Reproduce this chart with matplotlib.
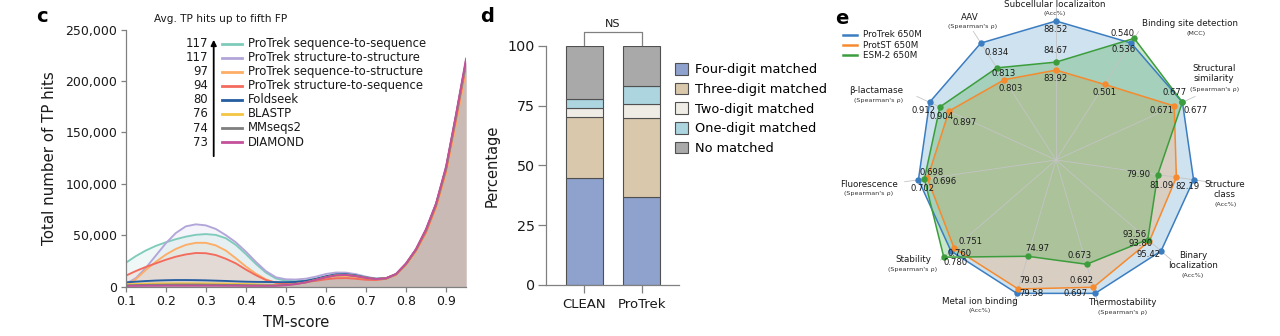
import numpy as np
import matplotlib.pyplot as plt
from matplotlib.patches import Patch, FancyArrowPatch
from matplotlib.lines import Line2D

plt.rcParams['font.family'] = ['DejaVu Sans']
plt.rcParams['axes.linewidth'] = 0.9

W, H = 1280, 336
fig = plt.figure(figsize=(12.8, 3.36), dpi=100)


def fx(px):
    return px / W


def fy(py):
    return 1 - py / H


TXT = '#1a1a1a'
SPINE = '#808080'

# ---------------------------------------------------------------- panel c data
tm_score = [0.100, 0.125, 0.150, 0.175, 0.200, 0.225, 0.250, 0.275, 0.300,
            0.325, 0.350, 0.375, 0.400, 0.425, 0.450, 0.475, 0.500, 0.525,
            0.550, 0.575, 0.600, 0.625, 0.650, 0.675, 0.700, 0.725, 0.750,
            0.775, 0.800, 0.825, 0.850, 0.875, 0.900, 0.925, 0.950]

# TP hits (thousands) at each TM-score
hits_seq2seq = [23.0, 29.5, 35.0, 39.5, 43.0, 46.0, 48.5, 50.3, 51.0, 50.2, 47.0, 40.5,
                31.6, 22.0, 13.5, 7.8, 5.6, 5.2, 5.8, 7.2, 9.5, 11.6, 12.0, 10.6, 8.6,
                7.4, 8.0, 12.0, 22.0, 36.0, 55.0, 80.0, 115.0, 166.0, 219.0]
hits_struct2struct = [2.5, 8.0, 18.0, 30.0, 42.0, 52.0, 58.5, 60.5, 59.5, 56.0, 50.0, 43.0,
                      34.0, 24.0, 15.0, 9.0, 7.0, 6.8, 7.6, 9.6, 12.2, 13.6, 13.5, 12.0, 9.6,
                      7.7, 8.1, 12.1, 22.1, 36.2, 55.3, 80.3, 115.8, 167.0, 221.0]
hits_seq2struct = [0.5, 7.0, 16.0, 24.0, 31.0, 36.5, 40.5, 42.5, 42.5, 40.0, 35.0, 27.5,
                   19.5, 12.5, 7.0, 3.5, 2.5, 3.0, 4.0, 6.0, 8.5, 10.0, 10.3, 9.0, 7.5,
                   6.8, 7.4, 11.3, 20.8, 34.0, 52.0, 76.0, 110.0, 158.0, 211.0]
hits_struct2seq = [10.5, 15.0, 19.0, 22.5, 26.0, 29.0, 31.2, 32.6, 32.4, 30.6, 27.0, 22.5,
                   16.5, 11.0, 6.3, 3.7, 3.0, 3.5, 4.5, 5.5, 7.0, 8.0, 8.2, 7.5, 6.5,
                   6.3, 7.5, 11.5, 21.5, 35.0, 53.0, 78.0, 113.0, 163.0, 216.0]
hits_foldseek = [4.0, 4.7, 5.3, 5.8, 6.1, 6.3, 6.3, 6.2, 6.0, 5.7, 5.4, 5.0,
                 4.7, 4.5, 4.4, 4.3, 4.2, 4.5, 5.5, 7.5, 10.0, 11.8, 12.0, 10.8, 8.8,
                 7.5, 8.0, 12.0, 22.0, 36.0, 55.0, 80.0, 115.0, 166.0, 219.0]
hits_blastp = [2.0, 2.4, 2.7, 2.9, 3.0, 3.1, 3.1, 3.1, 3.0, 2.9, 2.8, 2.6,
               2.4, 2.1, 1.6, 1.2, 1.5, 2.5, 4.0, 6.5, 9.0, 11.0, 11.3, 10.2, 8.5,
               7.3, 8.0, 12.0, 22.0, 36.0, 55.0, 80.0, 115.0, 166.0, 219.0]
hits_mmseqs2 = [1.2, 1.4, 1.6, 1.7, 1.8, 1.9, 1.9, 1.9, 1.8, 1.7, 1.6, 1.5,
                1.3, 1.2, 1.1, 1.1, 1.5, 2.5, 4.0, 6.5, 9.0, 11.0, 11.3, 10.2, 8.5,
                7.3, 8.0, 12.0, 22.0, 36.0, 55.0, 80.0, 115.0, 166.0, 219.0]
hits_diamond = [0.5, 0.6, 0.7, 0.7, 0.8, 0.8, 0.8, 0.8, 0.8, 0.8, 0.7, 0.7,
                0.6, 0.6, 0.6, 0.7, 1.2, 2.3, 4.0, 6.5, 9.0, 10.8, 11.2, 10.0, 8.3,
                7.2, 8.0, 12.2, 22.5, 36.5, 56.0, 81.0, 117.0, 168.0, 222.0]

search_methods = ['ProTrek sequence-to-sequence', 'ProTrek structure-to-structure',
                  'ProTrek sequence-to-structure', 'ProTrek structure-to-sequence',
                  'Foldseek', 'BLASTP', 'MMseqs2', 'DIAMOND']
avg_tp_hits = [117, 117, 97, 94, 80, 76, 74, 73]
method_hits = [hits_seq2seq, hits_struct2struct, hits_seq2struct, hits_struct2seq,
               hits_foldseek, hits_blastp, hits_mmseqs2, hits_diamond]
method_colors = ['#7fcbbb', '#b2a5d9', '#fdae66', '#f36b5c',
                 '#255da0', '#f4c443', '#7f7f7f', '#c4509a']

# ---------------------------------------------------------------- panel d data
ec_tools = ['CLEAN', 'ProTrek']
match_levels = ['Four-digit matched', 'Three-digit matched', 'Two-digit matched',
                'One-digit matched', 'No matched']
four_digit = [44.8, 36.8]
three_digit = [25.2, 32.8]
two_digit = [3.9, 6.2]
one_digit = [4.0, 7.2]
no_match = [22.1, 17.0]
level_colors = ['#8fa2cd', '#d9c8ab', '#efebe5', '#acd5df', '#a9a9a9']

# ---------------------------------------------------------------- panel e data
tasks = ['Subcellular localizaiton', 'Binding site detection', 'Structural\nsimilarity',
         'Structure\nclass', 'Binary\nlocalization', 'Thermostability',
         'Metal ion binding', 'Stability', 'Fluorescence', 'β-lactamase', 'AAV']
task_metrics = ['(Acc%)', '(MCC)', "(Spearman's ρ)", '(Acc%)', '(Acc%)',
                "(Spearman's ρ)", '(Acc%)', "(Spearman's ρ)", "(Spearman's ρ)",
                "(Spearman's ρ)", "(Spearman's ρ)"]
protrek_650m = [88.52, 0.536, 0.677, 82.19, 95.42, 0.697, 79.58, 0.760, 0.702, 0.912, 0.834]
protst_650m = [83.92, 0.501, 0.671, 81.09, 93.80, 0.692, 79.03, 0.751, 0.696, 0.897, 0.803]
esm2_650m = [84.67, 0.540, 0.677, 79.90, 93.56, 0.673, 74.97, 0.780, 0.698, 0.904, 0.813]
# lower end of each radial scale (centre of the radar)
axis_floor = [75.5, 0.437, 0.585, 73.4, 80.7, 0.587, 63.0, 0.466, 0.610, 0.814, 0.735]
model_names = ['ProTrek 650M', 'ProtST 650M', 'ESM-2 650M']
model_colors = ['#3b7dc0', '#f58a2e', '#3c9d3c']
model_fills = ['#1f77b4', '#ff7f0e', '#2ca02c']
model_alpha = [0.21, 0.20, 0.26]

# ============================================================ panel c
axc = fig.add_axes([fx(125.7), fy(286.5), fx(466.1) - fx(125.7), fy(29.6) - fy(286.5)])
xs = np.array(tm_score)
# shaded areas are stacked in reverse legend order, curves in legend order
for hits, col in reversed(list(zip(method_hits, method_colors))):
    ys = np.array(hits) * 1000
    axc.fill_between(xs, ys, 0, color=col, alpha=0.12, lw=0, zorder=1)
for hits, col in zip(method_hits, method_colors):
    ys = np.array(hits) * 1000
    axc.plot(xs, ys, color=col, lw=1.35, zorder=2, solid_capstyle='round')

axc.set_xlim(0.1, 0.95)
axc.set_ylim(0, 250000)
axc.set_xticks([0.1, 0.2, 0.3, 0.4, 0.5, 0.6, 0.7, 0.8, 0.9])
axc.set_xticklabels(['0.1', '0.2', '0.3', '0.4', '0.5', '0.6', '0.7', '0.8', '0.9'])
axc.set_yticks([0, 50000, 100000, 150000, 200000, 250000])
axc.set_yticklabels(['0', '50,000', '100,000', '150,000', '200,000', '250,000'])
for s in ['top', 'right']:
    axc.spines[s].set_visible(False)
for s in ['left', 'bottom']:
    axc.spines[s].set_color(SPINE)
axc.tick_params(axis='both', direction='out', length=3.5, width=0.9, color=SPINE,
                labelsize=9, labelcolor=TXT, pad=2.5)
axc.set_xlabel('TM-score', fontsize=10.5, color=TXT, labelpad=5)
axc.set_ylabel('Total number of TP hits', fontsize=10.8, color=TXT, labelpad=6)

# ranked legend with arrow
fig.text(fx(154), fy(19), 'Avg. TP hits up to fifth FP', fontsize=7.6, color=TXT,
         ha='left', va='center')
row0, row_step = 43.7, 14.05
for i, (name, val, col) in enumerate(zip(search_methods, avg_tp_hits, method_colors)):
    yy = fy(row0 + i * row_step)
    fig.text(fx(208), yy, str(val), fontsize=8.4, color=TXT, ha='right', va='center')
    fig.add_artist(Line2D([fx(221.7), fx(242.3)], [yy, yy], color=col, lw=2.0,
                          transform=fig.transFigure))
    fig.text(fx(248), yy, name, fontsize=8.4, color=TXT, ha='left', va='center')
fig.add_artist(FancyArrowPatch((fx(213.7), fy(159)), (fx(213.7), fy(37)),
                               transform=fig.transFigure, arrowstyle='-|>',
                               mutation_scale=8, lw=1.3, color='black'))

# ============================================================ panel d
axd = fig.add_axes([fx(546.3), fy(285), fx(679) - fx(546.3), fy(45.7) - fy(285)])
xpos = np.arange(len(ec_tools))
bottom = np.zeros(len(ec_tools))
for seg, col in zip([four_digit, three_digit, two_digit, one_digit, no_match], level_colors):
    axd.bar(xpos, seg, width=0.64, bottom=bottom, color=col, edgecolor='#505050',
            linewidth=0.8, zorder=2)
    bottom += np.array(seg)
axd.set_xlim(-0.66, 1.65)
axd.set_ylim(0, 100)
axd.set_yticks([0, 25, 50, 75, 100])
axd.set_xticks(xpos)
axd.set_xticklabels(ec_tools)
for s in ['top', 'right']:
    axd.spines[s].set_visible(False)
for s in ['left', 'bottom']:
    axd.spines[s].set_color(SPINE)
axd.tick_params(axis='y', direction='out', length=6, width=0.9, color=SPINE,
                labelsize=10.3, labelcolor=TXT, pad=2)
axd.tick_params(axis='x', direction='out', length=6, width=0.9, color=SPINE,
                labelsize=9.5, labelcolor=TXT, pad=3)
axd.set_ylabel('Percentage', fontsize=10.5, color=TXT, labelpad=6)
axd.plot([0, 0, 1, 1], [100.3, 105.6, 105.6, 100.3], color=SPINE, lw=0.9,
         clip_on=False, zorder=3)
axd.text(0.5, 107.0, 'NS', ha='center', va='bottom', fontsize=8, color=TXT)

handles = [Patch(facecolor=c, edgecolor='#505050', linewidth=0.8) for c in level_colors]
axd.legend(handles, match_levels, loc='upper left', bbox_to_anchor=(fx(675), fy(63)),
           bbox_transform=fig.transFigure, frameon=False, fontsize=9.3,
           handlelength=1.0, handleheight=1.0, handletextpad=0.55, labelspacing=0.5,
           borderaxespad=0, borderpad=0)

# ============================================================ panel e
r_unit = 139.0
r_lim = 1.2
side = 2 * r_lim * r_unit
cx, cy = 1056, 160
axe = fig.add_axes([fx(cx - side / 2), fy(cy + side / 2), side / W, side / H],
                   projection='polar')
axe.set_theta_zero_location('N')
axe.set_theta_direction(-1)
axe.set_ylim(0, r_lim)
axe.set_axis_off()

n = len(tasks)
theta = 2 * np.pi * np.arange(n) / n
hi = np.array(protrek_650m)
lo = np.array(axis_floor)


def radial(values):
    return (np.array(values) - lo) / (hi - lo)


for t in theta:
    axe.plot([t, t], [0, 1.1], color='#c4c4c4', lw=0.6, zorder=3)

series = [protrek_650m, protst_650m, esm2_650m]
for k, (vals, lc, fc, a) in enumerate(zip(series, model_colors, model_fills, model_alpha)):
    r = radial(vals)
    tt = np.append(theta, theta[0])
    rr = np.append(r, r[0])
    axe.fill(tt, rr, color=fc, alpha=a, lw=0, zorder=1 + 0.1 * k)
for k, (vals, lc) in enumerate(zip(series, model_colors)):
    r = radial(vals)
    tt = np.append(theta, theta[0])
    rr = np.append(r, r[0])
    axe.plot(tt, rr, color=lc, lw=1.1, zorder=4 + k)
    axe.plot(theta, r, 'o', color=lc, ms=4.6, mec='none', zorder=4.5 + k)

# value-label offsets from each marker, in pixels (x right, y down)
value_offsets = [
    [(0, 9), (-8, 6), (-7.7, -10), (-6.3, 6.3), (-12, 3.3), (-19.3, 0),
     (15, 0), (8.7, 2.6), (4.4, 9), (-6, 8.7), (16, 9.4)],
    [(0, 8.3), (0, 8), (-12.3, 4.4), (-15, 8.3), (-9, 2.6), (-11.6, -6.7),
     (13.4, -8.3), (16, -6.6), (17.6, 2.7), (16, 11.7), (6.7, 8.7)],
    [(0, -11.3), (-11.3, -4.4), (13.3, 8), (-19, 0), (-13.7, -4.6), (-7, -9),
     (10, -7.7), (11.7, 5.7), (7.4, -6.7), (1.7, 9.7), (6.6, 5.4)],
]
for vals, offs in zip(series, value_offsets):
    r = radial(vals)
    for t, rv, v, (dx, dy) in zip(theta, r, vals, offs):
        txt = f'{v:.2f}' if v > 1 else f'{v:.3f}'
        axe.annotate(txt, xy=(t, rv), xytext=(dx * 0.72, -dy * 0.72),
                     textcoords='offset points', ha='center', va='center',
                     fontsize=6.1, color=TXT, zorder=8, annotation_clip=False)

# task names around the radar (pixel anchors)
task_label_pos = [(1055, 4.5, 1055, 13.3), (1190, 24, 1196, 33.3), (1214, 73.8, 1215, 89.3),
                  (1225, 189.2, 1226, 204.3), (1193, 260.5, 1193, 275.7),
                  (1122.7, 302.7, 1122.7, 312.3), (980, 301, 980, 310.7),
                  (913.3, 260, 913, 269.7), (869.3, 184.7, 869, 193.7),
                  (875.7, 90.7, 878.3, 100), (970, 17.3, 972.7, 26.7)]
for name, metric, (x1, y1, x2, y2) in zip(tasks, task_metrics, task_label_pos):
    fig.text(fx(x1), fy(y1), name, ha='center', va='center', fontsize=6.3,
             color=TXT, linespacing=1.15)
    fig.text(fx(x2), fy(y2), metric, ha='center', va='center', fontsize=4.6,
             color='#333333')

for i, (name, col) in enumerate(zip(model_names, model_colors)):
    yy = fy(34.7 + i * 10.3)
    fig.add_artist(Line2D([fx(842.7), fx(856.7)], [yy, yy], color=col, lw=1.8,
                          transform=fig.transFigure))
    fig.text(fx(862.7), yy, name, fontsize=6.3, color=TXT, ha='left', va='center')

# panel letters
for letter, (px, py) in zip(['c', 'd', 'e'], [(42, 16), (487, 16.5), (842, 18)]):
    fig.text(fx(px), fy(py), letter, fontsize=14, fontweight='bold', ha='center',
             va='center', color='black')

fig.savefig('out.png', dpi=100)
